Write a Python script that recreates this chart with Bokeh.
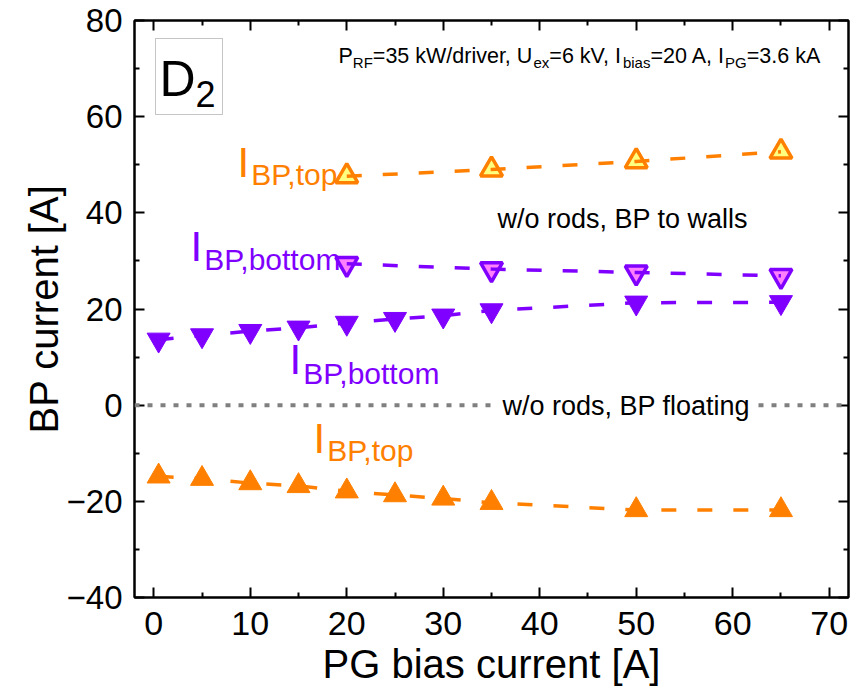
from bokeh.plotting import figure
from bokeh.models import (Range1d, LinearAxis, Label, BoxAnnotation, Span,
                          FixedTicker, CustomJSTickFormatter)
from bokeh.embed import file_html
from bokeh.resources import INLINE

# ---------------- data ----------------
bias_float = [0.5, 5, 10, 15, 20, 25, 30, 35, 50, 65]
bottom_float = [13.6, 14.5, 15.4, 16.1, 17.1, 17.9, 18.6, 19.7, 21.3, 21.4]
top_float = [-14.8, -15.3, -16.2, -16.8, -17.9, -18.7, -19.4, -20.3, -21.8, -21.8]

bias_walls = [20, 35, 50, 65]
top_walls = [47.6, 49.0, 50.7, 52.7]
bottom_walls = [29.4, 28.3, 27.6, 26.9]

zero_ref = 0
x_ticks = [0, 10, 20, 30, 40, 50, 60, 70]
y_ticks = [-40, -20, 0, 20, 40, 60, 80]

ORANGE = "#FF8000"
PURPLE = "#8000FF"
ARIAL = "Liberation Sans"
NARROW = "'Liberation Sans Narrow', 'Liberation Sans', sans-serif"

X0, X1, Y0, Y1 = -2, 72, -40, 80
W_PX, H_PX, L, R, T, B = 856, 700, 134, 8, 20, 103
FW, FH = W_PX - L - R, H_PX - T - B

p = figure(width=W_PX, height=H_PX, output_backend="svg", toolbar_location=None,
           x_range=Range1d(X0, X1), y_range=Range1d(Y0, Y1),
           min_border_left=L, min_border_right=R, min_border_top=T,
           min_border_bottom=B, background_fill_color="white",
           border_fill_color="white")
p.grid.visible = False
p.outline_line_color = "black"
p.outline_line_width = 2

def style_axis(ax, ticks, labels=True):
    step = ticks[1] - ticks[0]
    ax.ticker = FixedTicker(ticks=ticks, minor_ticks=[t + step / 2 for t in ticks[:-1]])
    ax.major_tick_in = 10
    ax.major_tick_out = 0
    ax.minor_tick_in = 5
    ax.minor_tick_out = 0
    ax.major_tick_line_width = 2
    ax.minor_tick_line_width = 2
    ax.axis_line_width = 2
    ax.major_tick_line_color = "black"
    ax.minor_tick_line_color = "black"
    ax.axis_line_color = "black"
    ax.major_label_text_color = "black"
    ax.axis_label_text_color = "black"
    if not labels:
        ax.formatter = CustomJSTickFormatter(code="return ''")
        ax.major_label_text_font_size = "0px"
        ax.major_label_standoff = 0

xa = p.xaxis[0]
style_axis(xa, x_ticks)
xa.axis_label = "PG bias current [A]"
xa.axis_label_text_font = ARIAL
xa.axis_label_text_font_size = "40px"
xa.axis_label_text_font_style = "normal"
xa.axis_label_standoff = 4
xa.major_label_text_font = NARROW
xa.major_label_text_font_size = "34px"
xa.major_label_standoff = 14

ya = p.yaxis[0]
style_axis(ya, y_ticks)
ya.axis_label = "BP current [A]"
ya.axis_label_text_font = ARIAL
ya.axis_label_text_font_size = "40px"
ya.axis_label_text_font_style = "normal"
ya.axis_label_standoff = -2
ya.major_label_text_font = ARIAL
ya.major_label_text_font_size = "33px"
ya.major_label_standoff = 12

top_ax = LinearAxis()
style_axis(top_ax, x_ticks, labels=False)
p.add_layout(top_ax, "above")
right_ax = LinearAxis()
style_axis(right_ax, y_ticks, labels=False)
p.add_layout(right_ax, "right")

# zero reference line
p.add_layout(Span(location=zero_ref, dimension="width", line_color="#808080",
                  line_width=4, line_dash="5 8"))

DASH = "15 21"
# floating
p.scatter(bias_float, bottom_float, marker="inverted_triangle", size=23,
          fill_color=PURPLE, line_color=PURPLE, line_width=1)
p.line(bias_float, bottom_float, line_color=PURPLE, line_width=3.5, line_dash=DASH)
p.scatter(bias_float, top_float, marker="triangle", size=23,
          fill_color=ORANGE, line_color=ORANGE, line_width=1)
p.line(bias_float, top_float, line_color=ORANGE, line_width=3.5, line_dash=DASH)
# walls
p.scatter(bias_walls, top_walls, marker="triangle", size=22,
          fill_color="#FFFF80", line_color=ORANGE, line_width=3.5)
p.line(bias_walls, top_walls, line_color=ORANGE, line_width=3.5, line_dash=DASH)
p.scatter(bias_walls, bottom_walls, marker="inverted_triangle", size=22,
          fill_color="#FF80FF", line_color=PURPLE, line_width=3.5)
p.line(bias_walls, bottom_walls, line_color=PURPLE, line_width=3.5, line_dash=DASH)

# ---------------- text helpers (screen-pixel placement) ----------------
AW = {' ': 278, ',': 278, '.': 278, '/': 278, '=': 584, '[': 278, ']': 278,
      'A': 667, 'B': 667, 'D': 722, 'F': 611, 'G': 778, 'I': 278, 'P': 667,
      'R': 722, 'U': 722, 'V': 667, 'W': 944,
      'a': 556, 'b': 556, 'd': 556, 'e': 556, 'i': 222, 'k': 500, 'l': 222,
      'm': 833, 'n': 556, 'o': 556, 'p': 556, 'r': 333, 's': 500, 't': 278,
      'v': 500, 'w': 722, 'x': 500}
for c in "0123456789":
    AW[c] = 556

def tw(s, size):
    return sum(AW.get(c, 556) for c in s) / 1000 * size

BASE_FIX = 0.38  # baseline correction (fraction of font size)

def px2x(px):
    return X0 + (px - L) * (X1 - X0) / FW

def py2y(py):
    return Y0 + (T + FH - py) * (Y1 - Y0) / FH

def txt(px, py, s, size, color="black", **kw):
    lab = Label(x=px2x(px), y=py2y(py - BASE_FIX * size), text=s, text_font=ARIAL,
                text_font_size=f"{size}px", text_color=color, text_align="left",
                text_baseline="alphabetic", **kw)
    p.add_layout(lab)

def rich(px, py, parts, color="black", gap=0):
    for s, size, dy in parts:
        txt(px, py + dy, s, size, color)
        px += tw(s, size) + gap

# series labels
rich(237, 178, [("I", 42, 0), ("BP,top", 30, 7)], ORANGE, gap=2)
rich(190, 262, [("I", 42, 0), ("BP,bottom", 30, 8)], PURPLE, gap=2)
rich(289, 375, [("I", 42, 0), ("BP,bottom", 30, 9)], PURPLE, gap=2)
rich(313, 454, [("I", 42, 0), ("BP,top", 30, 7)], ORANGE, gap=2)

txt(497, 229, "w/o rods, BP to walls", 27)
txt(497, 416, "w/o rods, BP floating", 27, background_fill_color="white", padding=5)

# header line
rich(338, 64, [("P", 21.5, 0), ("RF", 15, 4), ("=35 kW/driver, U", 21.5, 0),
               ("ex", 15, 4), ("=6 kV, I", 21.5, 0), ("bias", 15, 4),
               ("=20 A, I", 21.5, 0), ("PG", 15, 4), ("=3.6 kA", 21.5, 0)])

# D2 box
p.add_layout(BoxAnnotation(left=px2x(155), right=px2x(222), top=py2y(38),
                           bottom=py2y(114), fill_color="white", fill_alpha=1.0,
                           line_color="#404040", line_width=1))
rich(159, 97, [("D", 50, 0), ("2", 36, 10)])

open("out.html", "w").write(file_html(p, INLINE))
